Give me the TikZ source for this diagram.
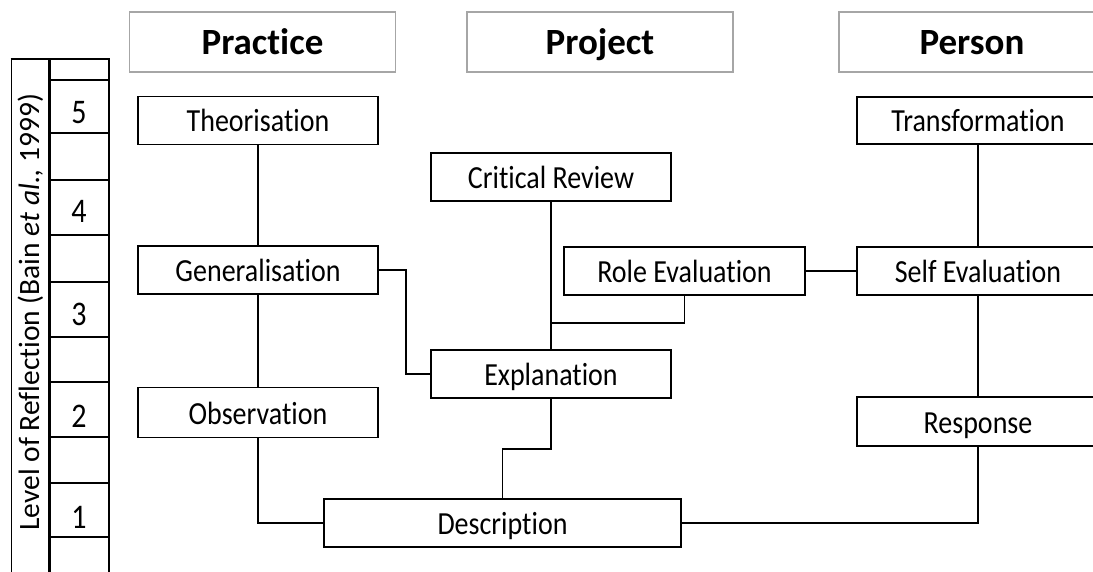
\documentclass[tikz,border=0pt]{standalone}
\usepackage{fontspec}
\usepackage{graphicx}
\setmainfont{Carlito}[Ligatures=NoCommon]
\newcommand{\tallt}[1]{\scalebox{1}[1.15]{#1}}
\begin{document}
\begin{tikzpicture}[x=1pt,y=-1pt,
  box/.style={draw=black, line width=1.7pt, minimum width=240pt, minimum height=48pt,
    inner sep=0pt, text height=23pt, text depth=0pt, font=\fontsize{28}{30}\selectfont},
  head/.style={draw=black!35, line width=1.2pt, minimum width=266pt, minimum height=60pt,
    inner sep=0pt, text height=26pt, text depth=0pt, font=\bfseries\fontsize{37}{40}\selectfont},
  link/.style={line width=1.7pt},
  num/.style={anchor=base, inner sep=0pt, font=\fontsize{30}{33}\selectfont},
  scale line/.style={line width=1.7pt}]

\useasboundingbox (0,0) rectangle (1093,572);
\clip (0,0) rectangle (1093,572);

% headers
\node[head] (hpr) at (262.5,42) {Practice};
\node[head] (hpj) at (600,42) {Project};
\node[head] (hpe) at (972,42) {Person};

% level scale
\draw[line width=1pt] (11,59) -- (11,590);
\draw[line width=3pt] (49,59) -- (49,590);
\draw[scale line] (109,59) -- (109,590);
\draw[scale line] (10.5,59) -- (109.85,59);
\foreach \yy in {80,133,180,235,282,337,382,437,483,537}
  \draw[scale line] (49,\yy) -- (109,\yy);
\node[num] (n5) at (79,124) {\tallt{5}};
\node[num] (n4) at (79,223) {\tallt{4}};
\node[num] (n3) at (79,325) {\tallt{3}};
\node[num] (n2) at (79,427) {\tallt{2}};
\node[num] (n1) at (79,528) {\tallt{1}};
\node[rotate=90, anchor=base, inner sep=0pt, font=\fontsize{29.5}{31}\selectfont] (lvl) at (39,312)
  {Level of Reflection (Bain \textit{et al.,} 1999)};

% boxes
\node[box] (theo) at (258,120.5) {\tallt{Theorisation}};
\node[box] (gen) at (258,270) {\tallt{Generalisation}};
\node[box, minimum height=50pt] (obs) at (258,412.5) {\tallt{Observation}};
\node[box] (crit) at (551,177) {\tallt{Critical Review}};
\node[box, minimum width=241pt] (role) at (684.5,271) {\tallt{Role Evaluation}};
\node[box] (expl) at (551,374) {\tallt{Explanation}};
\node[box, minimum width=357pt] (desc) at (502.5,523) {\tallt{Description}};
\node[box, minimum width=242pt, minimum height=47pt] (trans) at (978,120.5) {\tallt{Transformation}};
\node[box, minimum width=242pt] (self) at (978,271) {\tallt{Self Evaluation}};
\node[box, minimum width=242pt, minimum height=49pt] (resp) at (978,421.5) {\tallt{Response}};

% connectors
\draw[link] (theo) -- (gen);
\draw[link] (gen) -- (obs);
\draw[link] (obs.south) |- (desc.west);
\draw[link] (gen.east) -- ++(27,0) |- (expl.west);
\draw[link] (crit) -- (expl);
\coordinate (r1) at (551,323);
\draw[link] (role.south) |- (r1);
\draw[link] (role) -- (self);
\draw[link] (trans) -- (self);
\draw[link] (self) -- (resp);
\draw[link] (resp.south) |- (desc.east);
\coordinate (e1) at (551,449);
\draw[link] (expl.south) -- (e1) -| (desc.north);
\end{tikzpicture}
\end{document}
